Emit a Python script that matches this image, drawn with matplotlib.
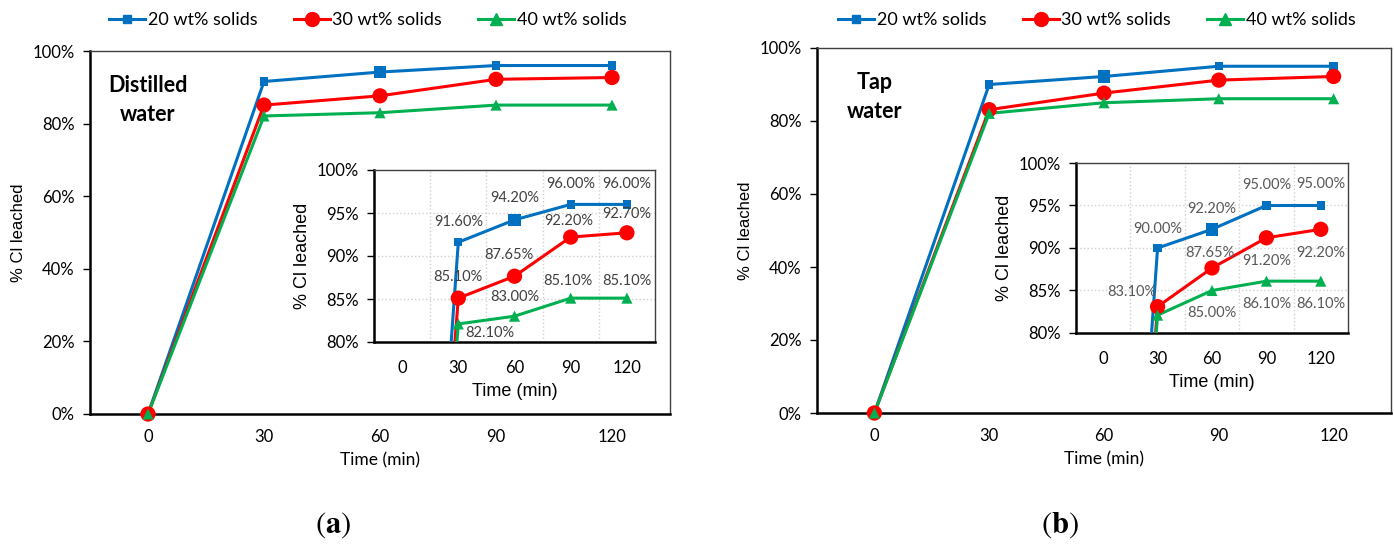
import matplotlib
matplotlib.use("Agg")
import matplotlib.pyplot as plt
from matplotlib.lines import Line2D
from matplotlib.ticker import FuncFormatter

# leaching time (min)
times = [0, 30, 60, 90, 120]
series_names = ["20 wt% solids", "30 wt% solids", "40 wt% solids"]

# % Cl leached with distilled water
distilled_20 = [0, 91.6, 94.2, 96.0, 96.0]
distilled_30 = [0, 85.1, 87.65, 92.2, 92.7]
distilled_40 = [0, 82.1, 83.0, 85.1, 85.1]

# % Cl leached with tap water
tap_20 = [0, 90.0, 92.2, 95.0, 95.0]
tap_30 = [0, 83.1, 87.65, 91.2, 92.2]
tap_40 = [0, 82.1, 85.0, 86.1, 86.1]

main_yticks = [0, 20, 40, 60, 80, 100]
inset_yticks = [80, 85, 90, 95, 100]

W, H = 1394, 552
CAL = ["Lato", "DejaVu Sans"]
ARI = ["Liberation Sans", "DejaVu Sans"]
plt.rcParams["mathtext.fontset"] = "stix"

colors = ["#0070C0", "#FF0000", "#00B050"]
markers = ["s", "o", "^"]
msizes = [[6, 6, 9, 6, 6], [11, 11, 11, 11, 11], [8, 8, 8, 8, 8]]


def rect(l, t, r, b):
    return [l / W, 1 - b / H, (r - l) / W, (b - t) / H]


def pct(v, _):
    return f"{v:.0f}%"


def style_axes(ax, fs, xpad):
    for side in ("left", "bottom"):
        ax.spines[side].set_color("black")
        ax.spines[side].set_linewidth(1.8)
    for side in ("top", "right"):
        ax.spines[side].set_color("#404040")
        ax.spines[side].set_linewidth(1.0)
    ax.tick_params(axis="y", direction="out", length=5, width=1, pad=6,
                   labelsize=fs)
    ax.tick_params(axis="x", length=0, pad=xpad, labelsize=fs)
    for lab in ax.get_xticklabels() + ax.get_yticklabels():
        lab.set_family(CAL)
    ax.yaxis.set_major_formatter(FuncFormatter(pct))


def draw_series(ax, data, clip=True):
    for vals, c, m, ms in zip(data, colors, markers, msizes):
        ax.plot(times, vals, color=c, lw=2.2, zorder=3, clip_on=clip)
        ax.scatter(times, vals, s=[s ** 2 for s in ms], marker=m, color=c,
                   zorder=4, clip_on=clip, linewidths=0)


def draw_panel(main_box, inset_box, data, note, offsets, label_color,
               tag, tag_x, legend_x):
    ax = fig.add_axes(rect(*main_box))
    draw_series(ax, data, clip=False)
    ax.set_xlim(-15, 135)
    ax.set_ylim(0, 100)
    ax.set_xticks(times)
    ax.set_yticks(main_yticks)
    style_axes(ax, 12, 11)
    ax.set_xlabel("Time (min)", fontsize=12.5, family=CAL, labelpad=5)
    ax.set_ylabel("% Cl leached", fontsize=12, family=ARI, labelpad=5)
    ax.text(0.10, 0.865, note, transform=ax.transAxes, ha="center",
            va="center", fontsize=15.5, family=CAL, fontweight="bold",
            linespacing=1.45)

    ins = fig.add_axes(rect(*inset_box))
    ins.set_facecolor("white")
    draw_series(ins, data)
    ins.set_xlim(-15, 135)
    ins.set_ylim(80, 100)
    ins.set_xticks(times)
    ins.set_xticks([15, 45, 75, 105], minor=True)
    ins.tick_params(axis="x", which="minor", length=0)
    ins.set_yticks(inset_yticks)
    ins.grid(True, which="minor", axis="x", color="#d0d0d0", ls=":", lw=1)
    ins.grid(True, which="major", axis="y", color="#d0d0d0", ls=":", lw=1)
    style_axes(ins, 12, 13)
    ins.set_xlabel("Time (min)", fontsize=13, family=ARI, labelpad=5)
    ins.set_ylabel("% Cl leached", fontsize=13, family=ARI, labelpad=4)

    for vals, offs in zip(data, offsets):
        for t, v, off in zip(times, vals, offs):
            if off is None:
                continue
            ins.annotate(f"{v:.2f}%", (t, v),
                         xytext=(off[0] * 0.72, off[1] * 0.72),
                         textcoords="offset points", ha="center",
                         va="center", fontsize=10.5, family=CAL,
                         color=label_color, zorder=5, annotation_clip=False)

    handles = [Line2D([], [], color=c, lw=2.2, marker=m, ms=s)
               for c, m, s in zip(colors, markers, [6, 10, 8])]
    fig.legend(handles, series_names, loc="center",
               bbox_to_anchor=(legend_x / W, 1 - 20 / H), ncol=3,
               frameon=False, handlelength=2.0, handletextpad=0.15,
               columnspacing=2.0, prop={"family": CAL, "size": 13})

    fig.text(tag_x / W, 1 - 525 / H, r"$(\mathbf{" + tag + r"})$",
             ha="center", va="center", fontsize=22)


fig = plt.figure(figsize=(W / 100, H / 100), dpi=100)

off_distilled = [
    [None, (0, 20), (0, 22), (0, 20), (0, 20)],
    [None, (0, 21), (-6, 21), (-2, 16), (0, 19)],
    [None, (32, -9), (0, 19), (-3, 17), (0, 17)],
]
off_tap = [
    [None, (0, 19), (0, 20), (0, 20), (0, 21)],
    [None, (-26, 15), (-2, 15), (0, -23), (0, -24)],
    [None, None, (0, -23), (0, -23), (0, -23)],
]

draw_panel((90, 51, 670, 414), (374, 170, 655, 342),
           [distilled_20, distilled_30, distilled_40], "Distilled\nwater",
           off_distilled, "#404040", "a", 333, 368)
draw_panel((817, 48, 1391, 413), (1076, 163, 1348, 333),
           [tap_20, tap_30, tap_40], "Tap\nwater",
           off_tap, "#595959", "b", 1060, 1097)

fig.savefig("out.png", dpi=100)
